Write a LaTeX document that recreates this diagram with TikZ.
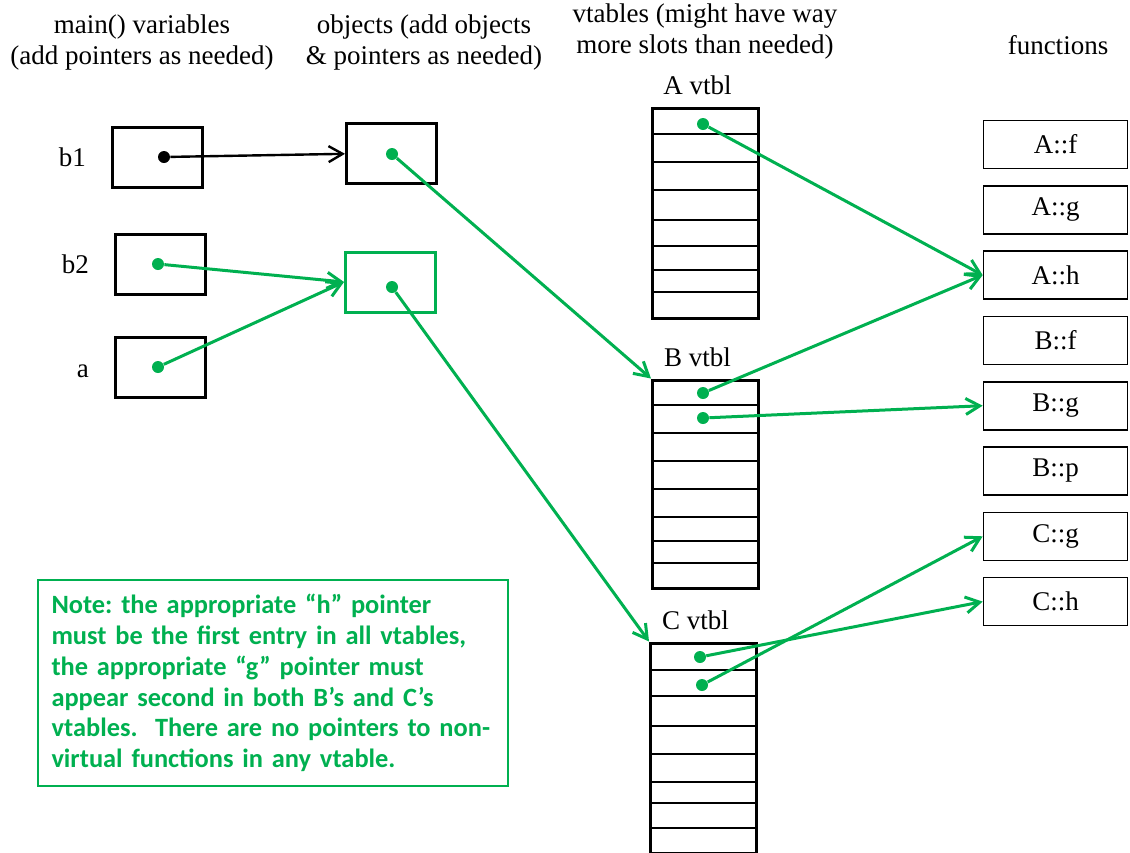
\documentclass[tikz,border=0pt]{standalone}
\usepackage{fontspec}
\setmainfont{Liberation Serif}
\newfontfamily\notefont{Carlito}
\usetikzlibrary{
        arrows.meta,
        positioning
    }
\definecolor{ptrgreen}{RGB}{0,176,80}
\tikzset{>={Straight Barb[length=7pt,width=8pt]}}
\tikzset{
    head/.style={align=center,font=\fontsize{13.5}{15.5}\selectfont},
    box/.style={draw,line width=1.5pt,minimum width=45pt,minimum height=30pt},
    vtbl/.style={draw,line width=1.5pt,minimum width=53pt},
    row/.style={line width=1.3pt},
    fnbox/.style={draw,line width=0.8pt,minimum width=72pt,minimum height=24pt},
    dot/.style={circle,fill=ptrgreen,inner sep=0pt,minimum size=6pt},
    ptr/.style={->,line width=1.5pt,ptrgreen}
}

\begin{document}
\begin{tikzpicture}[x=0.5pt,y=-0.5pt,font=\fontsize{13.5}{15.5}\selectfont]
    \useasboundingbox (0,0) rectangle (1130,852);

                \node[head] (hmain) at (142,43)  {main() variables\\(add pointers as needed)};
                \node[head] (hobj)  at (424,43)  {objects (add objects\\\& pointers as needed)};
                \node[head] (hvt)   at (705,32)  {vtables (might have way\\more slots than needed)};
                \node[head] (hfn)   at (1058,45) {functions};

                % main() variables
                \node[box] (b1) at (157.5,157.5) {};
                \node[box] (b2) at (160.5,264)   {};
                \node[box] (a)  at (160.5,367)   {};
                \node (lb1) [left=9pt of b1] {b1};
                \node (lb2) [left=9pt of b2] {b2};
                \node (la)  [left=9pt of a,yshift=-2pt]  {a};

                % objects
                \node[box] (obj1) at (391.5,153) {};
                \node[box,draw=ptrgreen] (obj2) at (390.5,282) {};

                % vtables
                \node[vtbl,minimum height=105pt] (avt) at (705.5,213) {};
                \node[vtbl,minimum height=104pt] (bvt) at (705.5,484) {};
                \node[vtbl,minimum height=105pt] (cvt) at (703.5,748) {};
                \node (lavt) [above=2.5pt of avt,xshift=-4pt] {A vtbl};
                \node (lbvt) [above=2.5pt of bvt,xshift=-4pt] {B vtbl};
                \node (lcvt) [above=2.5pt of cvt,xshift=-4pt] {C vtbl};
                \foreach \y in {134,162,190,220,246,270,292}
                    \draw[row] (652,\y) -- (759,\y);
                \foreach \y in {405,433,461,489,517,541,563}
                    \draw[row] (652,\y) -- (759,\y);
                \foreach \y in {670,696,726,754,782,803,828}
                    \draw[row] (650,\y) -- (757,\y);

                % functions
                \foreach \name/\lbl [count=\i from 0] in
                    {Af/A::f,Ag/A::g,Ah/A::h,Bf/B::f,Bg/B::g,Bp/B::p,Cg/C::g,Ch/C::h}
                    \node[fnbox] (\name) at (1055.5,144.5+65.3*\i) {\lbl};

                % pointer slots
                \node[dot,fill=black] (db1) at (164,157) {};
                \node[dot] (db2)   at (158,264) {};
                \node[dot] (da)    at (158,367) {};
                \node[dot] (dobj1) at (392,154) {};
                \node[dot] (dobj2) at (392,287) {};
                \node[dot] (av1)   at (703,124) {};
                \node[dot] (bv1)   at (703,393) {};
                \node[dot] (bv2)   at (703,418) {};
                \node[dot] (cv1)   at (700,657) {};
                \node[dot] (cv2)   at (702,685) {};

            \path[ptr]
                    (db1)   edge[black,line width=1.2pt] (obj1)
                    (db2)   edge (obj2.west)
                    (da)    edge (obj2.west)
                    (dobj1) edge (bvt.north west)
                    (dobj2) edge (cvt.north west)
                    (av1)   edge (Ah.west)
                    (bv1)   edge (Ah.west)
                    (bv2)   edge (Bg.west)
                    (cv1)   edge (Ch.west)
                    (cv2)   edge (Cg.west);

                \node[draw=ptrgreen,line width=1pt,text=ptrgreen,align=left,
                      text width=221pt,inner sep=7pt,minimum height=100pt,
                      font=\notefont\bfseries\frenchspacing\fontsize{13.2}{15.4}\selectfont] (note) at (272.5,683)
                    {Note: the appropriate “h” pointer\\
                     must be the first entry in all vtables,\\
                     the appropriate “g” pointer must\\
                     appear second in both B’s and C’s\\
                     vtables.\ \ There are no pointers to non-\\
                     virtual functions in any vtable.};
\end{tikzpicture}
\end{document}
